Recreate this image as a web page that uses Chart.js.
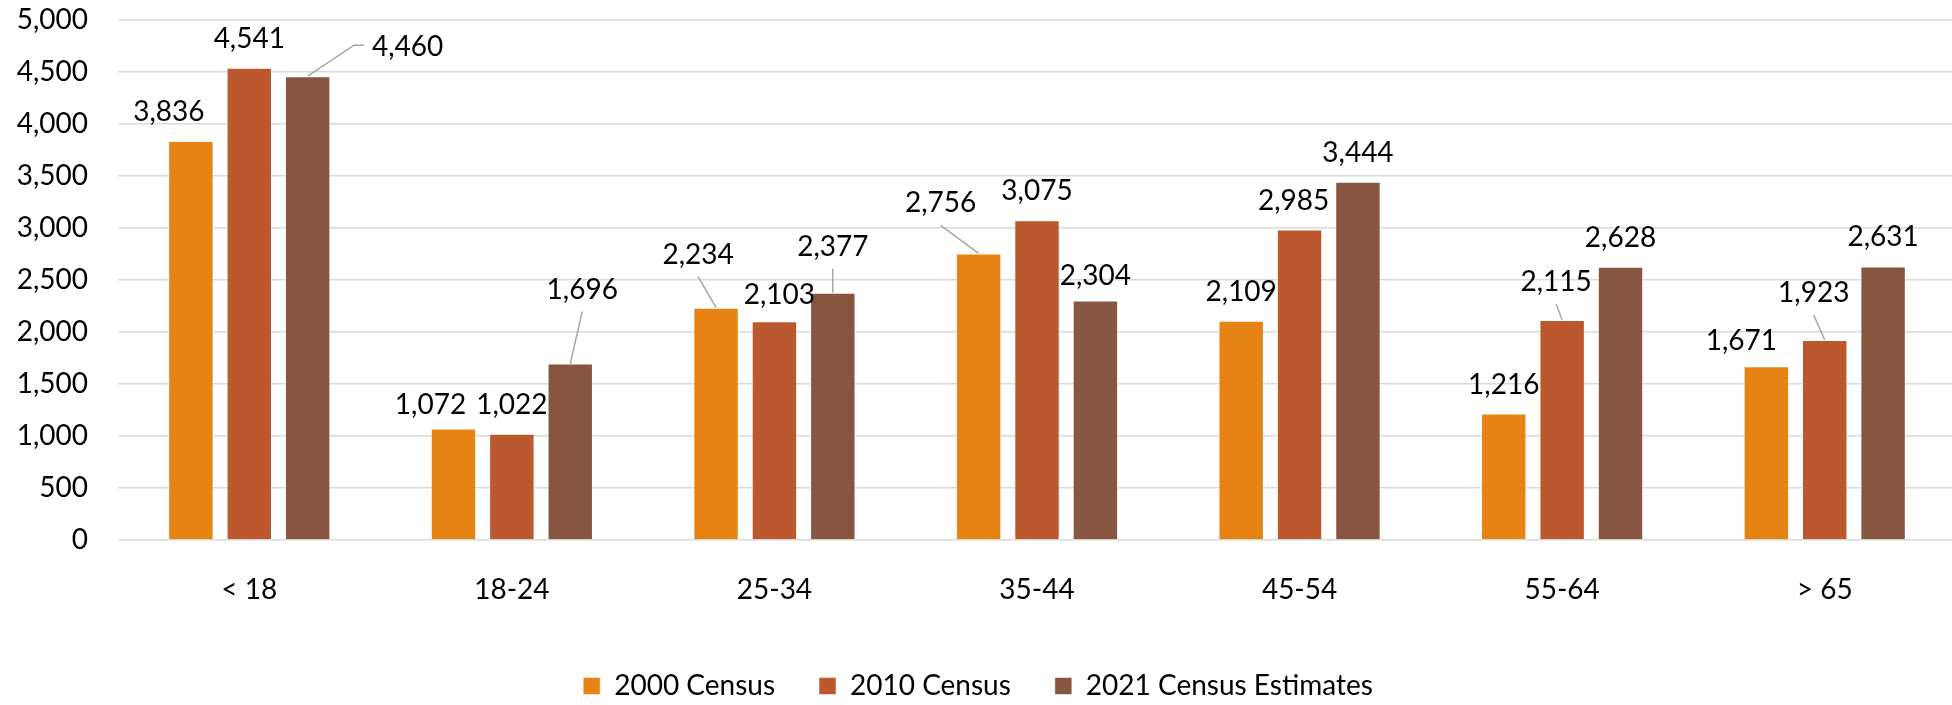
<!DOCTYPE html>
<html>
<head>
<meta charset="utf-8">
<script src="https://cdn.jsdelivr.net/npm/chart.js@4/dist/chart.umd.min.js"></script>
<style>
  html, body { margin: 0; padding: 0; background: #fff; overflow: hidden; }
  #wrap { width: 1956px; height: 705px; }
  canvas { display: block; }
</style>
</head>
<body>
<div id="wrap"><canvas id="ageChart" width="1956" height="705"></canvas></div>
<script>
const categories = ["< 18", "18-24", "25-34", "35-44", "45-54", "55-64", "> 65"];
const census2000 = [3836, 1072, 2234, 2756, 2109, 1216, 1671];
const census2010 = [4541, 1022, 2103, 3075, 2985, 2115, 1923];
const census2021 = [4460, 1696, 2377, 2304, 3444, 2628, 2631];
const seriesNames = ["2000 Census", "2010 Census", "2021 Census Estimates"];
const yMin = 0;
const yMax = 5000;
const yStep = 500;

// label nudges (px) relative to the default spot above each bar, like Excel's moved labels
const labelShift = [
  [[-22, 0], [-23, 5], [-18, -24], [-38, -21], [0, 0], [0, 0], [-25, 4]],
  [[0, 0], [0, 0], [5, 3], [0, 0], [-6, 0], [-6, -9], [-11, -18]],
  [[100, 0], [12, -45], [0, -17], [0, 5], [0, 0], [0, 0], [0, 0]]
];
const hasLeader = [
  [false, false, true, true, false, false, false],
  [false, false, false, false, false, true, true],
  [true, true, true, false, false, false, false]
];

const colors = ["#E68314", "#BC582D", "#865641"];
const FONT = "Lato";
const SIZE = 28;
const TEXT = "#000";

const barLabels = {
  id: "barLabels",
  afterDatasetsDraw(chart) {
    const ctx = chart.ctx;
    ctx.save();
    ctx.font = SIZE + "px " + FONT;
    ctx.fillStyle = TEXT;
    ctx.textAlign = "center";
    ctx.textBaseline = "middle";
    chart.data.datasets.forEach((ds, di) => {
      const meta = chart.getDatasetMeta(di);
      meta.data.forEach((bar, i) => {
        const text = ds.data[i].toLocaleString("en-US");
        const [dx, dy] = labelShift[di][i];
        const lx = bar.x + dx;
        const ly = bar.y - 29 + dy;
        if (hasLeader[di][i]) {
          ctx.strokeStyle = "#a6a6a6";
          ctx.lineWidth = 1.5;
          ctx.beginPath();
          ctx.moveTo(bar.x, bar.y);
          if (Math.abs(dx) > 60) {
            const left = lx - ctx.measureText(text).width / 2;
            ctx.lineTo(left - 18, ly - 2);
            ctx.lineTo(left - 8, ly - 2);
          } else {
            ctx.lineTo(lx, ly + 22);
          }
          ctx.stroke();
        }
        ctx.fillText(text, lx, ly);
      });
    });
    ctx.restore();
  }
};

const legendNudge = {
  id: "legendNudge",
  beforeInit(chart) {
    const origFit = chart.legend.fit;
    chart.legend.fit = function () {
      origFit.bind(chart.legend)();
      this.height -= 5;
    };
  }
};

document.addEventListener("DOMContentLoaded", () => {
  const ctx = document.getElementById("ageChart").getContext("2d");

  new Chart(ctx, {
    type: "bar",
    data: {
      labels: categories,
      datasets: [census2000, census2010, census2021].map((data, k) => ({
        label: seriesNames[k],
        data,
        backgroundColor: colors[k],
        borderColor: "rgba(255,255,255,0.5)",
        borderWidth: 1,
        categoryPercentage: 0.667,
        barPercentage: 0.778
      }))
    },
    options: {
      responsive: false,
      animation: false,
      layout: { padding: { top: 20, left: 0, right: 0, bottom: 0 } },
      plugins: {
        tooltip: { enabled: false },
        legend: {
          position: "bottom",
          labels: {
            boxWidth: 17,
            boxHeight: 17,
            padding: 44,
            color: TEXT,
            font: { family: FONT, size: SIZE }
          }
        }
      },
      scales: {
        x: {
          grid: { display: false },
          border: { display: false },
          ticks: { color: TEXT, padding: 25, font: { family: FONT, size: SIZE } },
          afterFit(scale) { scale.height = 88; }
        },
        y: {
          min: yMin,
          max: yMax,
          grid: { color: "#d9d9d9", lineWidth: 1.5, drawTicks: false },
          border: { display: false },
          ticks: {
            stepSize: yStep,
            padding: 30,
            color: TEXT,
            font: { family: FONT, size: SIZE },
            callback: v => v.toLocaleString("en-US")
          },
          afterFit(scale) {
            scale.width = 118;
            // tick padding would otherwise push the plot top down
            scale.paddingTop = 0;
            scale.paddingBottom = 0;
          }
        }
      }
    },
    plugins: [barLabels, legendNudge]
  });
});
</script>
</body>
</html>
